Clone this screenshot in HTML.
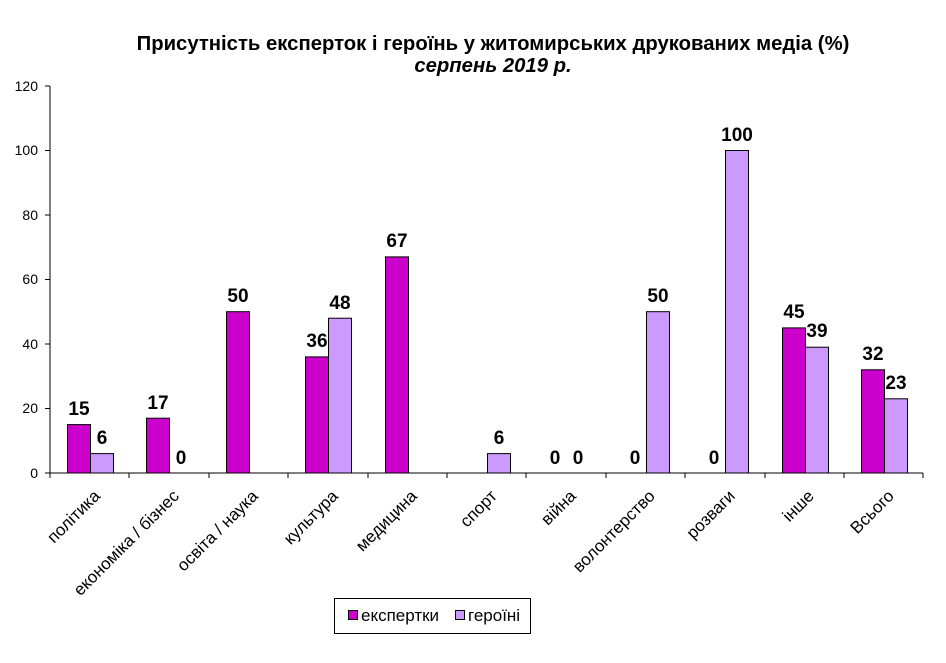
<!DOCTYPE html><html><head><meta charset="utf-8"><style>body{margin:0;background:#fff}svg{display:block;font-family:"Liberation Sans",Arial,sans-serif}</style></head><body>
<svg width="946" height="663" viewBox="0 0 946 663">
<text x="493" y="50" text-anchor="middle" font-size="20.3" font-weight="bold">Присутність експерток і героїнь у житомирських друкованих медіа (%)</text>
<text x="493" y="72" text-anchor="middle" font-size="20.3" font-weight="bold" font-style="italic">серпень 2019 р.</text>
<g font-size="14" text-anchor="end">
<text x="38" y="478">0</text><text x="38" y="413">20</text><text x="38" y="349">40</text><text x="38" y="284">60</text><text x="38" y="220">80</text><text x="38" y="155">100</text><text x="38" y="91">120</text></g>
<g stroke="#000" stroke-width="1">
<line x1="50" y1="86" x2="50" y2="473"/>
<line x1="45" y1="473" x2="923" y2="473"/>
<line x1="45" y1="408.5" x2="50" y2="408.5"/><line x1="45" y1="344" x2="50" y2="344"/><line x1="45" y1="279.5" x2="50" y2="279.5"/><line x1="45" y1="215" x2="50" y2="215"/><line x1="45" y1="150.5" x2="50" y2="150.5"/><line x1="45" y1="86" x2="50" y2="86"/>
<line x1="50" y1="473" x2="50" y2="478"/><line x1="129" y1="473" x2="129" y2="478"/><line x1="209" y1="473" x2="209" y2="478"/><line x1="288" y1="473" x2="288" y2="478"/><line x1="368" y1="473" x2="368" y2="478"/><line x1="447" y1="473" x2="447" y2="478"/><line x1="526" y1="473" x2="526" y2="478"/><line x1="606" y1="473" x2="606" y2="478"/><line x1="685" y1="473" x2="685" y2="478"/><line x1="765" y1="473" x2="765" y2="478"/><line x1="844" y1="473" x2="844" y2="478"/><line x1="923" y1="473" x2="923" y2="478"/>
</g>
<g stroke="#000" stroke-width="1" fill="#cc00cc">
<rect x="67.5" y="424.6" width="23" height="48.4"/>
<rect x="146.5" y="418.2" width="23" height="54.8"/>
<rect x="226.5" y="311.7" width="23" height="161.3"/>
<rect x="305.5" y="356.9" width="23" height="116.1"/>
<rect x="385.5" y="256.9" width="23" height="216.1"/>
<rect x="782.5" y="327.9" width="23" height="145.1"/>
<rect x="861.5" y="369.8" width="23" height="103.2"/>
</g>
<g stroke="#000" stroke-width="1" fill="#cc99ff">
<rect x="90.5" y="453.6" width="23" height="19.4"/>
<rect x="328.5" y="318.2" width="23" height="154.8"/>
<rect x="487.5" y="453.6" width="23" height="19.4"/>
<rect x="646.5" y="311.7" width="23" height="161.3"/>
<rect x="725.5" y="150.5" width="23" height="322.5"/>
<rect x="805.5" y="347.2" width="23" height="125.8"/>
<rect x="884.5" y="398.8" width="23" height="74.2"/>
</g>
<g font-size="19" font-weight="bold" text-anchor="middle">
<text x="79" y="415">15</text><text x="102" y="444">6</text>
<text x="158" y="409">17</text><text x="181" y="464">0</text>
<text x="238" y="302">50</text>
<text x="317" y="347">36</text><text x="340" y="309">48</text>
<text x="397" y="247">67</text>
<text x="499" y="444">6</text>
<text x="555" y="464">0</text><text x="578" y="464">0</text>
<text x="635" y="464">0</text><text x="658" y="302">50</text>
<text x="714" y="464">0</text><text x="737" y="141">100</text>
<text x="794" y="318">45</text><text x="817" y="337">39</text>
<text x="873" y="360">32</text><text x="896" y="389">23</text>
</g>
<g font-size="17" text-anchor="end">
<text x="101" y="497" transform="rotate(-45 101 497)">політика</text>
<text x="180" y="497" transform="rotate(-45 180 497)">економіка / бізнес</text>
<text x="259" y="497" transform="rotate(-45 259 497)">освіта / наука</text>
<text x="339" y="497" transform="rotate(-45 339 497)">культура</text>
<text x="418" y="497" transform="rotate(-45 418 497)">медицина</text>
<text x="498" y="497" transform="rotate(-45 498 497)">спорт</text>
<text x="577" y="497" transform="rotate(-45 577 497)">війна</text>
<text x="656" y="497" transform="rotate(-45 656 497)">волонтерство</text>
<text x="736" y="497" transform="rotate(-45 736 497)">розваги</text>
<text x="815" y="497" transform="rotate(-45 815 497)">інше</text>
<text x="895" y="497" transform="rotate(-45 895 497)">Всього</text>
</g>
<rect x="334.5" y="598.5" width="196" height="35" fill="#fff" stroke="#000"/>
<rect x="348.5" y="610.5" width="9" height="9" fill="#cc00cc" stroke="#000"/>
<text x="361" y="621" font-size="17">експертки</text>
<rect x="455.5" y="610.5" width="9" height="9" fill="#cc99ff" stroke="#000"/>
<text x="468" y="621" font-size="17">героїні</text>
</svg></body></html>
